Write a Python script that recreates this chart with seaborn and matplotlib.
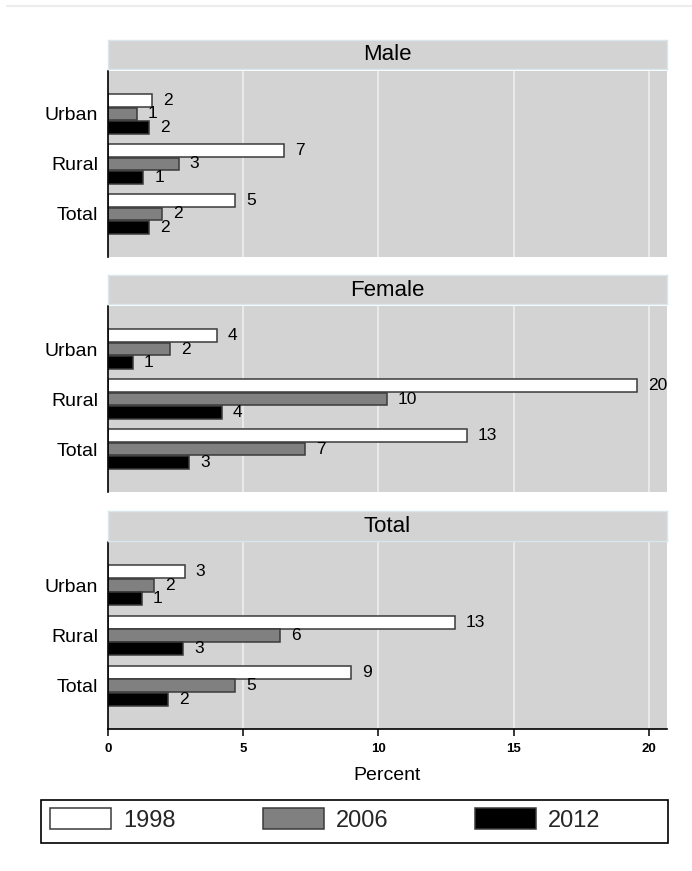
import matplotlib
matplotlib.use("Agg")
import matplotlib.pyplot as plt
from matplotlib.patches import Rectangle
from matplotlib.lines import Line2D
import pandas as pd
import seaborn as sns

# ---- data -------------------------------------------------------------
areas = ["Urban", "Rural", "Total"]
years = ["1998", "2006", "2012"]
panels = ["Male", "Female", "Total"]

male_1998 = [1.62, 6.52, 4.70]
male_2006 = [1.06, 2.61, 2.00]
male_2012 = [1.51, 1.30, 1.51]

female_1998 = [4.02, 19.55, 13.27]
female_2006 = [2.31, 10.30, 7.30]
female_2012 = [0.92, 4.21, 3.00]

total_1998 = [2.83, 12.83, 9.00]
total_2006 = [1.71, 6.36, 4.69]
total_2012 = [1.25, 2.78, 2.23]

x_ticks = [0, 5, 10, 15, 20]

series = {
    "Male": [male_1998, male_2006, male_2012],
    "Female": [female_1998, female_2006, female_2012],
    "Total": [total_1998, total_2006, total_2012],
}

rows = []
for panel, per_year in series.items():
    for year, values in zip(years, per_year):
        for area, v in zip(areas, values):
            rows.append({"panel": panel, "year": year, "area": area, "pct": v})
df = pd.DataFrame(rows)

# ---- style ------------------------------------------------------------
sns.set_theme(style="white")
plt.rcParams["font.family"] = ["Liberation Sans", "DejaVu Sans"]

W, H = 692, 871
fig = plt.figure(figsize=(W / 100, H / 100), dpi=100)
fig.patch.set_facecolor("white")


def fx(px):
    return px / W


def fy(py):
    return 1 - py / H


left, right = 108, 667
plot_rows = [(71, 257), (306, 492), (542, 729)]
head_rows = [(40, 69.5), (275.5, 304.5), (511, 541)]

panel_bg = "#d3d3d3"
palette = {"1998": "white", "2006": "#808080", "2012": "black"}

handles, labels = None, None
for i, panel in enumerate(panels):
    top, bot = plot_rows[i]
    ax = fig.add_axes([fx(left), fy(bot), fx(right - left), (bot - top) / H])
    ax.set_facecolor(panel_bg)
    for xv in x_ticks[1:]:
        ax.axvline(xv, color="#ececec", lw=1.3, zorder=0.5)

    sub = df[df["panel"] == panel]
    sns.barplot(data=sub, y="area", x="pct", hue="year", order=areas,
                hue_order=years, palette=palette, orient="h", width=0.8,
                gap=0.04, edgecolor="#3a3a3a", linewidth=1.1, saturation=1,
                errorbar=None, legend=(i == 0), ax=ax)

    for cont in ax.containers:
        ax.bar_label(cont, fmt="%.0f", padding=8, fontsize=12.5, color="black")

    ax.set_xlim(0, 20.67)
    ax.set_ylim(2.86, -0.86)
    ax.set_xlabel("")
    ax.set_ylabel("")

    for s in ["top", "right", "bottom"]:
        ax.spines[s].set_visible(False)
    ax.spines["left"].set_color("black")
    ax.spines["left"].set_linewidth(1.2)

    ax.tick_params(axis="y", length=0, pad=7, labelsize=14, labelcolor="black")
    ax.set_xticks(x_ticks)
    if i < 2:
        ax.tick_params(axis="x", bottom=False, labelbottom=False)
    else:
        ax.spines["bottom"].set_visible(True)
        ax.spines["bottom"].set_color("black")
        ax.spines["bottom"].set_linewidth(1.2)
        ax.tick_params(axis="x", bottom=True, length=5, width=1.1,
                       color="black", labelsize=9.5, pad=5, labelcolor="black")
        for t in ax.get_xticklabels():
            t.set_fontweight("bold")
        ax.set_xlabel("Percent", fontsize=14, labelpad=9, color="black")

    if i == 0:
        handles, labels = ax.get_legend_handles_labels()
        ax.get_legend().remove()

    # panel header strip
    htop, hbot = head_rows[i]
    hax = fig.add_axes([fx(left), fy(hbot), fx(right - left), (hbot - htop) / H])
    hax.set_facecolor(panel_bg)
    hax.set_xticks([])
    hax.set_yticks([])
    for s in hax.spines.values():
        s.set_color("#d9e6ee")
        s.set_linewidth(1.0)
    hax.text(0.5, 0.5, panel, ha="center", va="center", fontsize=16,
             color="black", transform=hax.transAxes)

# ---- legend -----------------------------------------------------------
fs = 17
fs_px = fs / 72 * 100
fig.legend(handles, labels, loc="upper left",
           bbox_to_anchor=(fx(50), fy(808)), frameon=False, ncol=3,
           fontsize=fs, handlelength=61 / fs_px, handleheight=24 / fs_px,
           handletextpad=12 / fs_px, columnspacing=87 / fs_px,
           borderpad=0, borderaxespad=0)
fig.add_artist(Rectangle((fx(40.5), fy(843)), fx(667.7 - 40.5), (843 - 800) / H,
                         transform=fig.transFigure, fill=False,
                         edgecolor="black", lw=1.2))

fig.add_artist(Line2D([fx(7), 1], [fy(6), fy(6)], color="#ececec", lw=1.5,
                      transform=fig.transFigure))

fig.savefig("out.png", dpi=100)
